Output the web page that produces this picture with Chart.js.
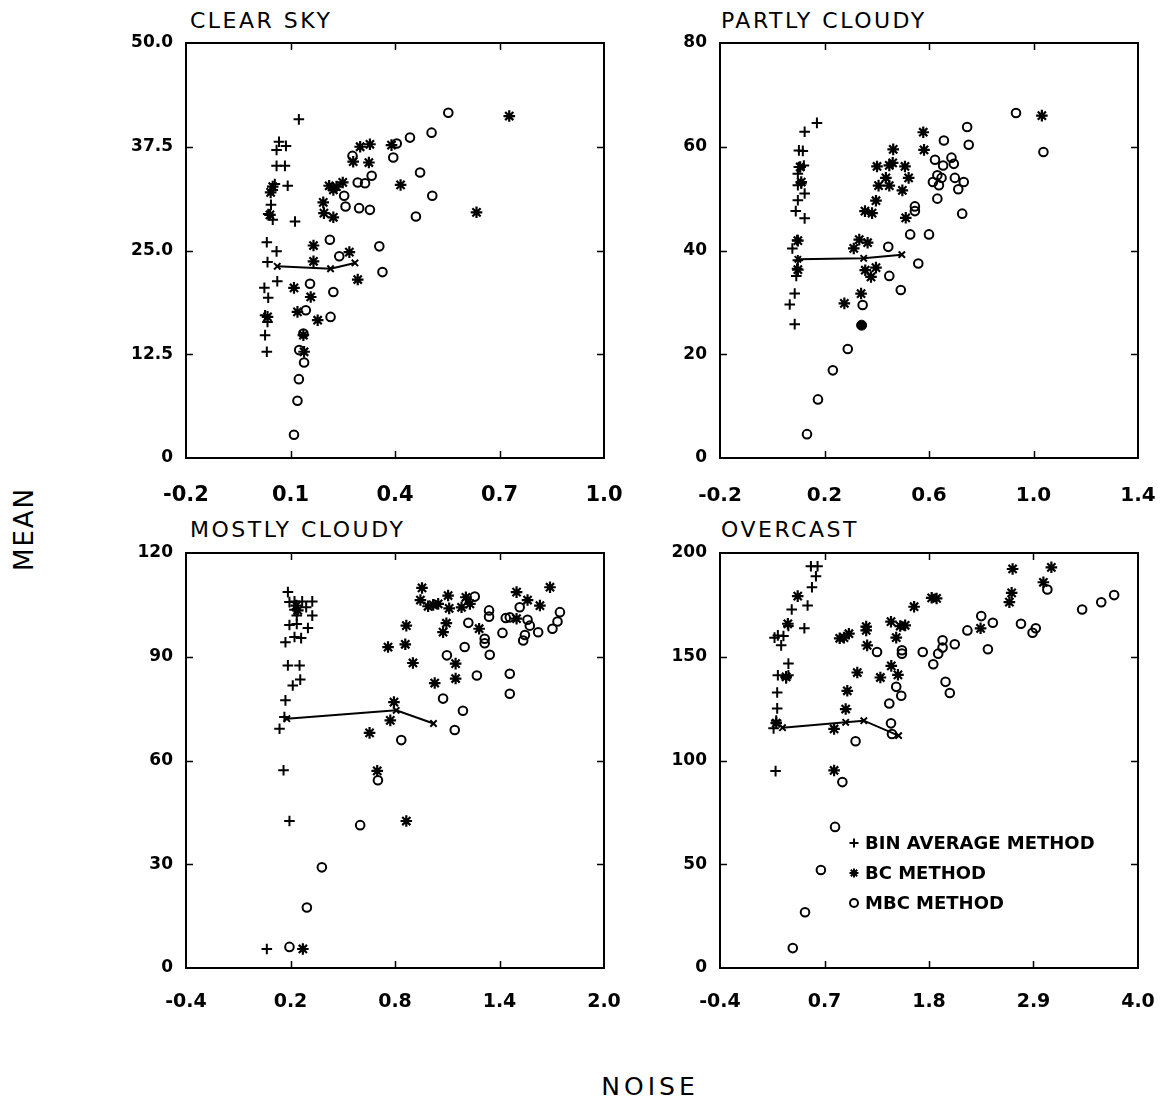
<!DOCTYPE html>
<html><head><meta charset="utf-8">
<script src="https://cdn.jsdelivr.net/npm/chart.js@4/dist/chart.umd.min.js"></script>
<style>
html,body{margin:0;padding:0;background:#fff;width:1168px;height:1108px;overflow:hidden;position:relative;}
canvas{position:absolute;}
.t{position:absolute;font-family:"DejaVu Sans",sans-serif;color:#000;white-space:nowrap;line-height:1;}
.title{font-size:22px;letter-spacing:2.5px;}
</style></head><body>
<div class="t title" style="left:190px;top:10px">CLEAR SKY</div>
<div class="t title" style="left:721px;top:10px">PARTLY CLOUDY</div>
<div class="t title" style="left:190px;top:519px">MOSTLY CLOUDY</div>
<div class="t title" style="left:721px;top:519px">OVERCAST</div>
<div class="t" style="left:24px;top:529px;font-size:26px;letter-spacing:2px;transform:translate(-50%,-50%) rotate(-90deg);">MEAN</div>
<div class="t" style="left:650px;top:1074px;font-size:25px;letter-spacing:4px;transform:translateX(-50%);">NOISE</div>
<script>
// ---------- CLEAR SKY ----------
const clearXTicks = [-0.2, 0.1, 0.4, 0.7, 1.0];
const clearXLabels = ['-0.2', '0.1', '0.4', '0.7', '1.0'];
const clearYTicks = [0, 12.5, 25, 37.5, 50];
const clearYLabels = ['0', '12.5', '25.0', '37.5', '50.0'];
const clearBin = [[0.124,40.8],[0.067,38.1],[0.087,37.6],[0.060,37.1],[0.060,35.2],[0.084,35.2],[0.055,33.0],[0.092,32.8],[0.049,32.3],[0.044,30.5],[0.036,29.4],[0.049,28.7],[0.113,28.5],[0.032,26.0],[0.060,24.9],[0.034,23.6],[0.062,21.3],[0.025,20.5],[0.036,19.3],[0.027,17.2],[0.034,16.4],[0.027,14.8],[0.032,12.8]];
const clearBC = [[0.728,41.2],[0.300,37.5],[0.328,37.8],[0.390,37.7],[0.280,35.7],[0.325,35.6],[0.211,32.8],[0.223,32.3],[0.232,32.7],[0.250,33.2],[0.416,32.9],[0.194,30.8],[0.196,29.5],[0.223,29.0],[0.634,29.6],[0.166,25.6],[0.269,24.8],[0.166,23.7],[0.293,21.5],[0.110,20.5],[0.158,19.4],[0.120,17.6],[0.178,16.6],[0.137,14.8],[0.139,12.8],[0.049,32.7],[0.043,32.0],[0.041,29.3],[0.034,17.0]];
const clearMBC = [[0.553,41.6],[0.505,39.2],[0.443,38.6],[0.405,37.9],[0.395,36.2],[0.278,36.4],[0.472,34.4],[0.333,34.0],[0.293,33.2],[0.314,33.1],[0.254,31.6],[0.507,31.6],[0.258,30.3],[0.297,30.1],[0.328,29.9],[0.460,29.1],[0.213,26.3],[0.355,25.5],[0.240,24.3],[0.364,22.4],[0.156,21.0],[0.223,20.0],[0.144,17.8],[0.215,17.0],[0.137,15.0],[0.125,13.0],[0.139,11.5],[0.124,9.5],[0.120,6.9],[0.110,2.8]];
const clearLine = [[0.062,23.1],[0.215,22.8],[0.285,23.5]];

// ---------- PARTLY CLOUDY ----------
const partlyXTicks = [-0.2, 0.2, 0.6, 1.0, 1.4];
const partlyXLabels = ['-0.2', '0.2', '0.6', '1.0', '1.4'];
const partlyYTicks = [0, 20, 40, 60, 80];
const partlyYLabels = ['0', '20', '40', '60', '80'];
const partlyBin = [[0.171,64.6],[0.124,62.9],[0.102,59.3],[0.117,59.2],[0.102,56.1],[0.121,56.4],[0.098,54.8],[0.111,52.9],[0.098,52.6],[0.124,51.0],[0.098,49.7],[0.090,47.6],[0.124,46.2],[0.095,42.0],[0.077,40.4],[0.098,38.1],[0.095,36.5],[0.092,35.1],[0.086,31.7],[0.067,29.6],[0.086,25.8]];
const partlyBC = [[1.032,66.0],[0.578,62.8],[0.581,59.4],[0.463,59.5],[0.401,56.2],[0.448,56.4],[0.461,56.9],[0.508,56.2],[0.522,54.0],[0.435,54.0],[0.407,52.5],[0.448,52.5],[0.498,51.6],[0.397,49.6],[0.355,47.6],[0.382,47.2],[0.511,46.3],[0.333,42.1],[0.365,41.5],[0.312,40.4],[0.356,36.2],[0.397,36.7],[0.378,34.9],[0.340,31.7],[0.276,29.8],[0.098,41.9],[0.098,36.3],[0.107,56.1],[0.111,53.2]];
const partlyMBC = [[0.933,66.5],[1.038,59.0],[0.746,63.8],[0.752,60.4],[0.657,61.2],[0.623,57.5],[0.686,57.9],[0.695,56.7],[0.654,56.4],[0.632,54.5],[0.648,54.0],[0.699,54.0],[0.615,53.2],[0.638,52.6],[0.733,53.2],[0.712,51.8],[0.632,50.0],[0.546,48.5],[0.546,47.6],[0.727,47.1],[0.528,43.1],[0.600,43.1],[0.444,40.7],[0.559,37.5],[0.448,35.1],[0.492,32.4],[0.346,29.5],[0.289,21.0],[0.232,16.9],[0.175,11.3],[0.133,4.6]];
const partlyFilled = [[0.342,25.6]];
const partlyLine = [[0.098,38.3],[0.350,38.5],[0.496,39.2]];

// ---------- MOSTLY CLOUDY ----------
const mostlyXTicks = [-0.4, 0.2, 0.8, 1.4, 2.0];
const mostlyXLabels = ['-0.4', '0.2', '0.8', '1.4', '2.0'];
const mostlyYTicks = [0, 30, 60, 90, 120];
const mostlyYLabels = ['0', '30', '60', '90', '120'];
const mostlyBin = [[0.185,108.7],[0.194,105.8],[0.223,106.0],[0.267,106.0],[0.325,106.0],[0.290,104.3],[0.325,101.9],[0.223,103.6],[0.236,101.9],[0.194,99.2],[0.236,99.5],[0.300,98.3],[0.171,94.2],[0.223,95.7],[0.261,95.4],[0.185,87.5],[0.252,87.5],[0.256,83.4],[0.213,81.7],[0.171,77.4],[0.165,72.6],[0.137,69.2],[0.160,57.2],[0.194,42.5],[0.064,5.5]];
const mostlyBC = [[0.233,104.8],[0.242,103.4],[0.955,109.9],[0.946,106.4],[0.990,104.6],[1.019,105.0],[1.048,105.3],[1.105,107.7],[1.111,104.0],[1.182,104.3],[1.207,107.2],[1.230,105.3],[1.095,99.7],[1.076,97.1],[0.865,99.0],[0.859,93.6],[0.760,92.8],[0.903,88.2],[1.148,88.0],[1.148,83.7],[1.028,82.4],[1.283,98.1],[1.498,108.7],[1.561,106.4],[1.632,104.8],[1.690,110.1],[1.498,101.0],[0.794,76.9],[0.773,71.6],[0.654,68.0],[0.698,57.0],[0.865,42.5],[0.271,5.5]];
const mostlyMBC = [[1.258,107.4],[1.340,103.4],[1.340,101.6],[1.221,99.8],[1.315,95.2],[1.315,93.9],[1.344,90.6],[1.200,92.8],[1.098,90.4],[1.270,84.6],[1.076,77.9],[1.190,74.4],[1.143,68.8],[0.836,65.9],[0.702,54.3],[0.600,41.3],[0.380,29.1],[0.294,17.5],[0.194,6.1],[1.459,85.1],[1.459,79.3],[1.417,96.9],[1.436,101.2],[1.459,101.4],[1.516,104.3],[1.561,100.7],[1.574,99.0],[1.546,96.3],[1.536,94.7],[1.622,97.1],[1.704,98.1],[1.733,100.2],[1.747,102.9]];
const mostlyLine = [[0.179,72.1],[0.807,74.5],[1.021,70.7]];

// ---------- OVERCAST ----------
const overXTicks = [-0.4, 0.7, 1.8, 2.9, 4.0];
const overXLabels = ['-0.4', '0.7', '1.8', '2.9', '4.0'];
const overYTicks = [0, 50, 100, 150, 200];
const overYLabels = ['0', '50', '100', '150', '200'];
const overBin = [[0.557,193.6],[0.627,193.6],[0.610,188.8],[0.568,183.5],[0.522,174.7],[0.355,172.8],[0.488,163.7],[0.320,164.8],[0.209,160.3],[0.268,160.0],[0.244,155.5],[0.174,159.2],[0.320,146.7],[0.209,141.1],[0.320,141.1],[0.296,139.5],[0.202,132.8],[0.202,125.1],[0.192,119.2],[0.164,115.5],[0.185,94.9]];
const overBC = [[2.680,192.3],[3.088,193.1],[3.004,185.9],[2.670,180.8],[2.646,176.3],[0.418,179.2],[1.828,178.4],[1.880,178.1],[1.643,174.1],[1.139,162.7],[1.400,166.9],[1.497,164.8],[1.549,165.1],[1.455,159.2],[0.860,158.9],[0.905,159.2],[0.957,161.1],[1.149,155.5],[1.045,142.4],[1.403,145.6],[1.473,141.3],[1.288,140.0],[0.940,133.6],[0.923,124.8],[0.801,115.2],[0.801,95.2],[2.343,163.7],[0.314,165.9],[0.296,140.3],[0.192,118.0],[1.139,164.5]];
const overMBC = [[3.046,182.4],[3.749,179.7],[3.613,176.3],[3.412,172.8],[2.350,169.6],[2.472,166.4],[2.768,165.9],[2.924,163.7],[2.890,161.6],[2.204,162.7],[2.071,156.0],[1.943,157.9],[1.943,154.4],[2.420,153.6],[1.897,151.5],[1.734,152.3],[1.515,153.1],[1.515,151.5],[1.253,152.3],[1.845,146.4],[1.974,137.9],[2.019,132.5],[1.455,135.5],[1.508,131.2],[1.382,127.5],[1.400,117.9],[1.410,112.8],[1.027,109.3],[0.888,89.6],[0.811,68.0],[0.662,47.2],[0.495,26.9],[0.366,9.6]];
const overLine = [[0.258,115.8],[0.923,118.4],[1.114,119.2],[1.480,112.0]];

const legendLabels = ['BIN AVERAGE METHOD', 'BC METHOD', 'MBC METHOD'];

const FONT = '"DejaVu Sans", sans-serif';
const PAD_L = 110, PAD_T = 30, PAD_B = 62, PAD_R = 60;

const toPts = arr => arr.map(p => ({x: p[0], y: p[1]}));

function drawMarker(ctx, kind, x, y, r) {
  ctx.beginPath();
  if (kind === 'plus') {
    ctx.moveTo(x - r, y); ctx.lineTo(x + r, y); ctx.moveTo(x, y - r); ctx.lineTo(x, y + r);
  } else if (kind === 'star') {
    ctx.moveTo(x - r, y); ctx.lineTo(x + r, y); ctx.moveTo(x, y - r); ctx.lineTo(x, y + r);
    const d = r * 0.7071;
    ctx.moveTo(x - d, y - d); ctx.lineTo(x + d, y + d); ctx.moveTo(x - d, y + d); ctx.lineTo(x + d, y - d);
  } else {
    ctx.arc(x, y, r, 0, Math.PI * 2);
  }
  ctx.stroke();
}

function framePlugin(o) {
  return {
    id: 'frame',
    afterDraw(chart) {
      const ctx = chart.ctx, a = chart.chartArea;
      const xs = chart.scales.x, ys = chart.scales.y;
      ctx.save();
      ctx.strokeStyle = '#000';
      ctx.lineWidth = 2;
      ctx.strokeRect(a.left, a.top, a.right - a.left, a.bottom - a.top);
      ctx.lineWidth = 1.5;
      const TL = 7;
      ctx.beginPath();
      o.xTicks.slice(1, -1).forEach(v => {
        const px = Math.round(xs.getPixelForValue(v)) + 0.5;
        ctx.moveTo(px, a.bottom); ctx.lineTo(px, a.bottom - TL);
        ctx.moveTo(px, a.top); ctx.lineTo(px, a.top + TL);
      });
      o.yTicks.slice(1, -1).forEach(v => {
        const py = Math.round(ys.getPixelForValue(v)) + 0.5;
        ctx.moveTo(a.left, py); ctx.lineTo(a.left + TL, py);
        ctx.moveTo(a.right, py); ctx.lineTo(a.right - TL, py);
      });
      ctx.stroke();
      if (o.legend) {
        const lx = a.left + 134, ly0 = a.top + 290, dy = 30;
        const kinds = ['plus', 'star', 'circle'];
        ctx.lineWidth = 2;
        ctx.fillStyle = '#000';
        ctx.font = 'bold 18px ' + FONT;
        ctx.textBaseline = 'middle';
        ctx.textAlign = 'left';
        legendLabels.forEach((lab, i) => {
          const y = ly0 + i * dy;
          drawMarker(ctx, kinds[i], lx, y, kinds[i] === 'circle' ? 4 : 4.5);
          ctx.fillText(lab, lx + 11, y + 1);
        });
      }
      ctx.restore();
    }
  };
}

function panel(o) {
  const c = document.createElement('canvas');
  const W = (o.right - o.left) + PAD_L + PAD_R;
  const H = (o.bottom - o.top) + PAD_T + PAD_B;
  c.width = W; c.height = H;
  c.style.left = (o.left - PAD_L) + 'px';
  c.style.top = (o.top - PAD_T) + 'px';
  c.style.width = W + 'px'; c.style.height = H + 'px';
  document.body.appendChild(c);
  const datasets = [
    {data: toPts(o.line), showLine: true, borderColor: '#000', borderWidth: 2, pointStyle: 'crossRot', pointRadius: 4.5, pointBorderWidth: 2, pointBorderColor: '#000', backgroundColor: 'rgba(0,0,0,0)'},
    {data: toPts(o.bin), pointStyle: 'cross', pointRadius: 5.3, pointBorderWidth: 2, borderColor: '#000', pointBorderColor: '#000', backgroundColor: 'rgba(0,0,0,0)'},
    {data: toPts(o.bc), pointStyle: 'star', pointRadius: 5.8, pointBorderWidth: 2.2, borderColor: '#000', pointBorderColor: '#000', backgroundColor: 'rgba(0,0,0,0)'},
    {data: toPts(o.mbc), pointStyle: 'circle', pointRadius: 4.3, pointBorderWidth: 2, borderColor: '#000', pointBorderColor: '#000', pointBackgroundColor: 'rgba(0,0,0,0)', backgroundColor: 'rgba(0,0,0,0)'}
  ];
  if (o.filled) datasets.push({data: toPts(o.filled), pointStyle: 'circle', pointRadius: 5, pointBorderWidth: 1, pointBorderColor: '#000', pointBackgroundColor: '#000'});
  new Chart(c, {
    type: 'scatter',
    data: {datasets},
    options: {
      responsive: false, animation: false, devicePixelRatio: 1,
      events: [],
      layout: {padding: {left: 0, top: PAD_T, right: PAD_R, bottom: 0}},
      plugins: {legend: {display: false}, tooltip: {enabled: false}, title: {display: false}},
      scales: {
        x: {
          type: 'linear', min: o.xTicks[0], max: o.xTicks[o.xTicks.length - 1],
          afterBuildTicks: s => { s.ticks = o.xTicks.map(v => ({value: v})); },
          afterFit: s => { s.height = PAD_B; },
          grid: {display: false, drawTicks: false}, border: {display: false},
          ticks: {autoSkip: false, maxRotation: 0, minRotation: 0, padding: o.xPad, color: '#000',
            font: {family: FONT, size: o.xFont, weight: 'bold'},
            callback: (v, i) => o.xLabels[i]}
        },
        y: {
          type: 'linear', min: o.yTicks[0], max: o.yTicks[o.yTicks.length - 1],
          afterBuildTicks: s => { s.ticks = o.yTicks.map(v => ({value: v})); },
          afterFit: s => { s.width = PAD_L; },
          grid: {display: false, drawTicks: false}, border: {display: false},
          ticks: {autoSkip: false, padding: 13, color: '#000',
            font: {family: FONT, size: 17, weight: 'bold'},
            callback: (v, i) => o.yLabels[i]}
        }
      }
    },
    plugins: [framePlugin(o)]
  });
}

panel({left: 186, top: 43, right: 604, bottom: 458, xFont: 21, xPad: 25,
  xTicks: clearXTicks, xLabels: clearXLabels, yTicks: clearYTicks, yLabels: clearYLabels,
  bin: clearBin, bc: clearBC, mbc: clearMBC, line: clearLine});
panel({left: 720, top: 43, right: 1138, bottom: 458, xFont: 20, xPad: 26,
  xTicks: partlyXTicks, xLabels: partlyXLabels, yTicks: partlyYTicks, yLabels: partlyYLabels,
  bin: partlyBin, bc: partlyBC, mbc: partlyMBC, line: partlyLine, filled: partlyFilled});
panel({left: 186, top: 553, right: 604, bottom: 968, xFont: 19, xPad: 23,
  xTicks: mostlyXTicks, xLabels: mostlyXLabels, yTicks: mostlyYTicks, yLabels: mostlyYLabels,
  bin: mostlyBin, bc: mostlyBC, mbc: mostlyMBC, line: mostlyLine});
panel({left: 720, top: 553, right: 1138, bottom: 968, xFont: 19, xPad: 23,
  xTicks: overXTicks, xLabels: overXLabels, yTicks: overYTicks, yLabels: overYLabels,
  bin: overBin, bc: overBC, mbc: overMBC, line: overLine, legend: true});
</script>
</body></html>
